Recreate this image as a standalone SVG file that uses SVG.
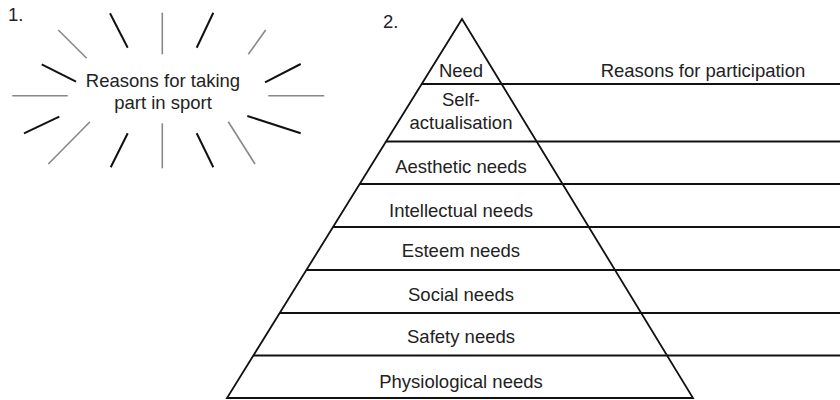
<svg xmlns="http://www.w3.org/2000/svg" width="840" height="400" viewBox="0 0 840 400">
<style>
text{font-family:"Liberation Sans",Arial,sans-serif;font-size:18.5px;fill:#222;}
.c{text-anchor:middle;}
.k{stroke:#111;stroke-width:2;fill:none;stroke-linecap:butt;}
.g{stroke:#888;stroke-width:1.6;fill:none;}
.ln{stroke:#111;stroke-width:1.8;fill:none;}
</style>
<rect width="840" height="400" fill="#fff"/>
<g id="label-1"><text x="8" y="21">1.</text></g>
<g id="starburst">
<g id="rays-black">
<line class="k" x1="110" y1="13.3" x2="127.7" y2="47.7"/>
<line class="k" x1="213.3" y1="12.7" x2="196.7" y2="47.7"/>
<line class="k" x1="41.7" y1="64.3" x2="76" y2="81.7"/>
<line class="k" x1="265" y1="82.3" x2="300.7" y2="64"/>
<line class="k" x1="24" y1="133.3" x2="59.3" y2="116.7"/>
<line class="k" x1="247.3" y1="116" x2="300.7" y2="133.3"/>
<line class="k" x1="110.7" y1="167.3" x2="127.7" y2="133.3"/>
<line class="k" x1="213.3" y1="167.3" x2="196.7" y2="133.3"/>
</g>
<g id="rays-grey">
<line class="g" x1="58.3" y1="30" x2="86.7" y2="58.3"/>
<line class="g" x1="162.3" y1="12.7" x2="162.3" y2="54.3"/>
<line class="g" x1="265.7" y1="30" x2="248.3" y2="54.3"/>
<line class="g" x1="12.3" y1="95.7" x2="67.7" y2="95.7"/>
<line class="g" x1="268.3" y1="95.7" x2="324.3" y2="95.7"/>
<line class="g" x1="48.3" y1="164" x2="90" y2="121.7"/>
<line class="g" x1="162.3" y1="123.3" x2="162.3" y2="168.3"/>
<line class="g" x1="228.3" y1="121.7" x2="255" y2="164"/>
</g>
<text class="c" x="163" y="87">Reasons for taking</text>
<text class="c" x="163" y="109">part in sport</text>
</g>
<g id="label-2"><text x="383" y="28">2.</text></g>
<g id="pyramid">
<polygon class="ln" points="462,19 227,398 693,398"/>
</g>
<g id="rows">
<line class="ln" x1="421.7" y1="84" x2="840" y2="84"/>
<line class="ln" x1="386" y1="141.5" x2="840" y2="141.5"/>
<line class="ln" x1="359.7" y1="184" x2="840" y2="184"/>
<line class="ln" x1="333" y1="227" x2="840" y2="227"/>
<line class="ln" x1="306.4" y1="270" x2="840" y2="270"/>
<line class="ln" x1="279.7" y1="313" x2="840" y2="313"/>
<line class="ln" x1="253.4" y1="355.5" x2="840" y2="355.5"/>
</g>
<g id="header-need"><text class="c" x="461" y="77">Need</text></g>
<g id="header-reasons"><text class="c" x="703" y="77">Reasons for participation</text></g>
<g id="self-actualisation"><text class="c" x="461" y="106">Self-</text><text class="c" x="461" y="129">actualisation</text></g>
<g id="aesthetic"><text class="c" x="461" y="173">Aesthetic needs</text></g>
<g id="intellectual"><text class="c" x="461" y="217">Intellectual needs</text></g>
<g id="esteem"><text class="c" x="461" y="257">Esteem needs</text></g>
<g id="social"><text class="c" x="461" y="301">Social needs</text></g>
<g id="safety"><text class="c" x="461" y="343">Safety needs</text></g>
<g id="physiological"><text class="c" x="461" y="388">Physiological needs</text></g>
</svg>
